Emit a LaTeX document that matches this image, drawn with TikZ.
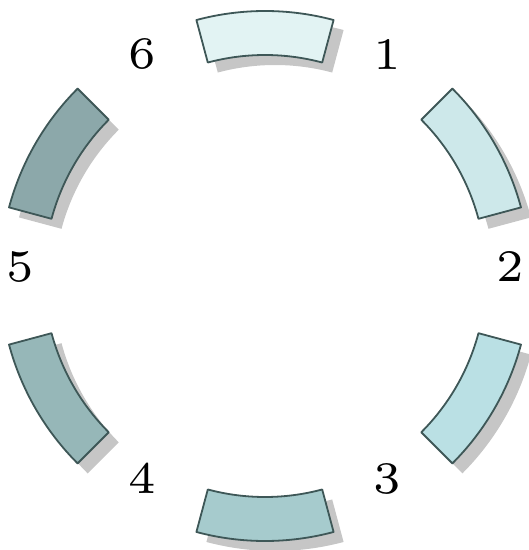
\documentclass[tikz,border=0pt]{standalone}
\usepackage{tikz}
\usetikzlibrary{positioning}
\definecolor{SegA}{RGB}{226,243,243}
\definecolor{SegB}{RGB}{205,232,234}
\definecolor{SegC}{RGB}{186,224,228}
\definecolor{SegD}{RGB}{166,203,205}
\definecolor{SegE}{RGB}{150,183,184}
\definecolor{SegF}{RGB}{140,168,170}
\definecolor{SegEdge}{RGB}{62,87,87}
\definecolor{ShadeGray}{RGB}{198,198,198}
\tikzset{
	seg/.style={draw=SegEdge,line width=1.8pt,line join=round},
	segshade/.style={fill=ShadeGray,draw=none},
	num/.style={inner sep=0pt},
}
\newcommand{\bignum}[1]{\scalebox{8.2}{\fontsize{5.5}{5.5}\selectfont #1}}

\begin{document}
\begin{tikzpicture}[x=1pt,y=1pt]
	\useasboundingbox (0,0) rectangle (529,550);
	\coordinate (c) at (265,274);
	\coordinate (lc) at (265,283.5);
	% shadows first
	\foreach \a in {90,30,-30,-90,-150,150}
	\fill[segshade,shift={(c)},shift={(10,-10)}]
		(\a-15:221) arc[start angle=\a-15,end angle=\a+15,radius=221]
		-- (\a+15:265) arc[start angle=\a+15,end angle=\a-15,radius=265] -- cycle;
	% ring segments
	\foreach \a/\col in {90/SegA,30/SegB,-30/SegC,-90/SegD,-150/SegE,150/SegF}
	\filldraw[seg,fill=\col,shift={(c)}]
		(\a-15:221) arc[start angle=\a-15,end angle=\a+15,radius=221]
		-- (\a+15:265) arc[start angle=\a+15,end angle=\a-15,radius=265] -- cycle;
	% numbers in the gaps
	\foreach \k/\a in {1/60,2/0,3/-60,4/-120,5/180,6/120}
	\node[num] (n\k) at ([shift={(\a:245)}]lc) {\bignum{\k}};
\end{tikzpicture}
\end{document}
